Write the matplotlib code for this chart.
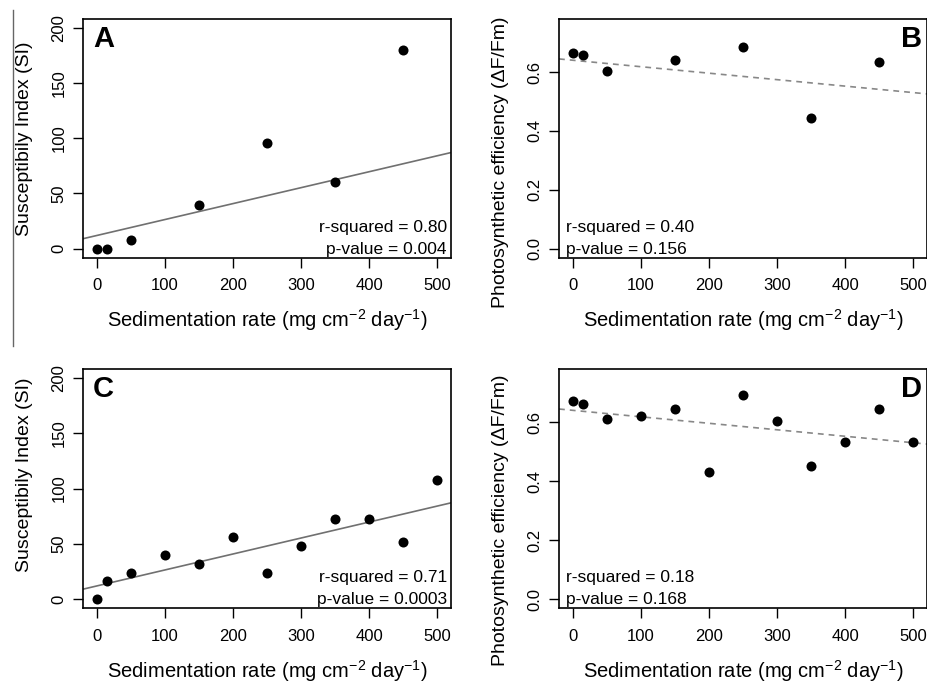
import matplotlib
matplotlib.use("Agg")
import matplotlib.pyplot as plt
from matplotlib.lines import Line2D

plt.rcParams['font.family'] = ['Liberation Sans', 'DejaVu Sans']
plt.rcParams['mathtext.fontset'] = 'custom'
plt.rcParams['mathtext.rm'] = 'Liberation Sans'
plt.rcParams['mathtext.it'] = 'Liberation Sans'
plt.rcParams['mathtext.bf'] = 'Liberation Sans:bold'

# ---- data ----
x_ab = [0, 15, 50, 150, 250, 350, 450]
si_a = [0, 0, 8, 40, 96, 60, 180]
pe_b = [0.664, 0.657, 0.604, 0.641, 0.685, 0.445, 0.634]

x_cd = [0, 15, 50, 100, 150, 200, 250, 300, 350, 400, 450, 500]
si_c = [0, 16, 24, 40, 32, 56, 24, 48, 72, 72, 52, 108]
pe_d = [0.672, 0.663, 0.612, 0.622, 0.643, 0.430, 0.693, 0.603, 0.451, 0.531, 0.643, 0.531]

si_fit = (11.9, 0.1445)     # intercept, slope
pe_fit = (0.640, -0.00022)  # intercept, slope

x_ticks = [0, 100, 200, 300, 400, 500]
si_ticks = [0, 50, 100, 150, 200]
pe_ticks = [0.0, 0.2, 0.4, 0.6]
pe_tick_labels = ["0.0", "0.2", "0.4", "0.6"]

stats = {
    "A": ("r-squared = 0.80", "p-value = 0.004"),
    "B": ("r-squared = 0.40", "p-value = 0.156"),
    "C": ("r-squared = 0.71", "p-value = 0.0003"),
    "D": ("r-squared = 0.18", "p-value = 0.168"),
}

xlabel = "Sedimentation rate (mg cm$^{-2}$ day$^{-1}$)"
si_label = "Susceptibily Index (SI)"
pe_label = "Photosynthetic efficiency (\u0394F/Fm)"

W, H = 928, 683
fig = plt.figure(figsize=(W / 100, H / 100), dpi=100)

def box(l, t, r, b):
    return [l / W, 1 - b / H, (r - l) / W, (b - t) / H]

axes = {
    "A": fig.add_axes(box(83, 19, 451, 257.5)),
    "B": fig.add_axes(box(559, 19, 927, 257.5)),
    "C": fig.add_axes(box(83, 369, 451, 608)),
    "D": fig.add_axes(box(559, 369, 927, 608)),
}

panels = {
    "A": (x_ab, si_a, "si"),
    "B": (x_ab, pe_b, "pe"),
    "C": (x_cd, si_c, "si"),
    "D": (x_cd, pe_d, "pe"),
}

ylab_center = {"A": 0.5, "B": 0.40, "C": 0.556, "D": 0.368}

for key, ax in axes.items():
    xs, ys, kind = panels[key]
    ax.set_xlim(-20, 520)
    if kind == "si":
        ax.set_ylim(-8, 208)
        ax.set_yticks(si_ticks)
        ax.set_yticklabels([str(v) for v in si_ticks])
        ax.axline((0, si_fit[0]), slope=si_fit[1], color="#707070", lw=1.2, zorder=2)
        ax.set_ylabel(si_label, fontsize=14)
    else:
        ax.set_ylim(-0.03, 0.78)
        ax.set_yticks(pe_ticks)
        ax.set_yticklabels(pe_tick_labels)
        ax.axline((0, pe_fit[0]), slope=pe_fit[1], color="#888888", lw=1.2,
                  dashes=(3.5, 3), zorder=2)
        ax.set_ylabel(pe_label, fontsize=14)
    ax.scatter(xs, ys, s=52, color="black", zorder=3, clip_on=False, linewidths=0)
    ax.set_xticks(x_ticks)
    ax.set_xticklabels([str(v) for v in x_ticks])
    ax.tick_params(axis="both", direction="out", length=7, width=1.0, labelsize=12,
                   colors="black")
    ax.tick_params(axis="x", pad=8)
    ax.tick_params(axis="y", pad=5)
    for lab in ax.get_yticklabels():
        lab.set_rotation(90)
        lab.set_va("center")
    for sp in ax.spines.values():
        sp.set_linewidth(1.2)
    ax.set_xlabel(xlabel, fontsize=14.5)
    ax.xaxis.label.set_va("baseline")
    ax.xaxis.set_label_coords(0.5, -0.29)
    ax.yaxis.label.set_va("baseline")
    ax.yaxis.set_label_coords(-0.147, ylab_center[key])

    r2, pv = stats[key]
    if key in ("A", "C"):
        ax.text(0.989, 0.107, r2, transform=ax.transAxes, ha="right", va="baseline", fontsize=12.5)
        ax.text(0.989, 0.015, pv, transform=ax.transAxes, ha="right", va="baseline", fontsize=12.5)
        ax.text(0.027, 0.975, key, transform=ax.transAxes, ha="left", va="top",
                fontsize=21, fontweight="bold")
    else:
        ax.text(0.019, 0.107, r2, transform=ax.transAxes, ha="left", va="baseline", fontsize=12.5)
        ax.text(0.019, 0.015, pv, transform=ax.transAxes, ha="left", va="baseline", fontsize=12.5)
        ax.text(0.986, 0.975, key, transform=ax.transAxes, ha="right", va="top",
                fontsize=21, fontweight="bold")

# thin vertical rule at the left edge
fig.add_artist(Line2D([13 / W, 13 / W], [1 - 10 / H, 1 - 346 / H], color="#666666", lw=1.0))

fig.savefig("out.png", dpi=100)
